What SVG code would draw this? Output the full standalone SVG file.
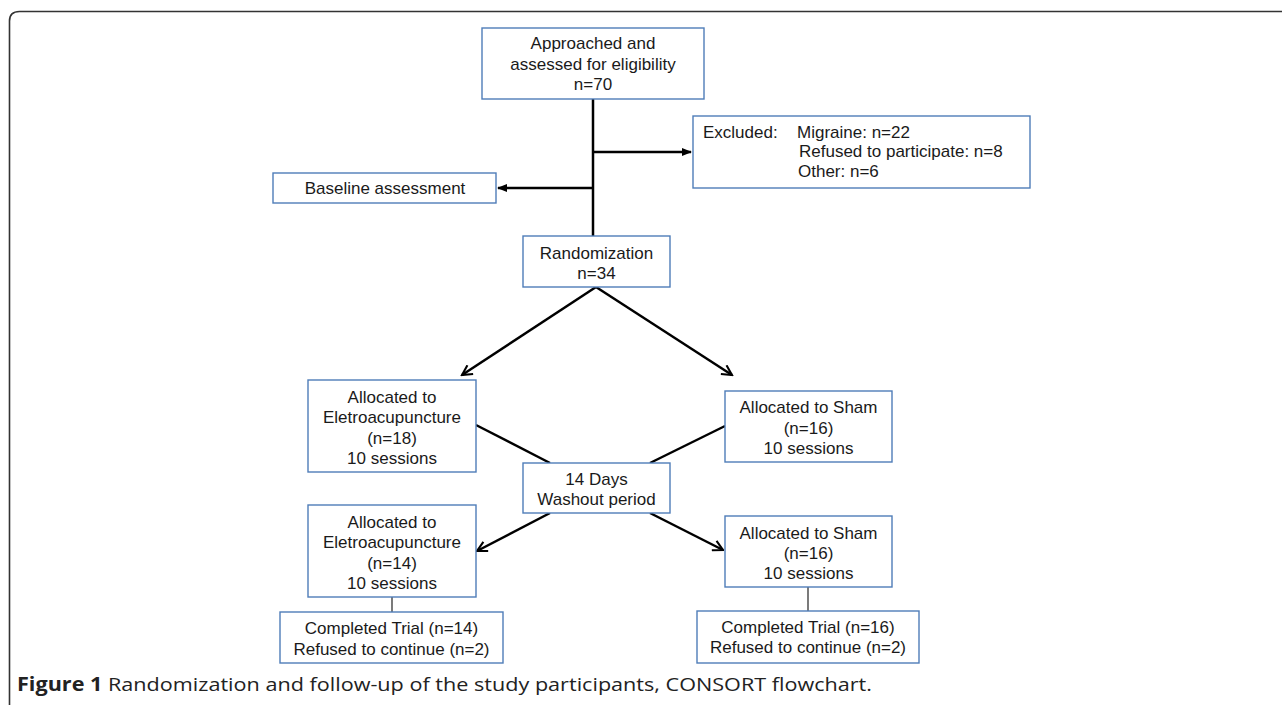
<svg xmlns="http://www.w3.org/2000/svg" width="1282" height="705" viewBox="0 0 1282 705">
<style>
.box{fill:#ffffff;stroke:#4f7db8;stroke-width:1.4}
.t{font-family:"Liberation Sans",Arial,sans-serif;font-size:17px;fill:#1a1a1a;text-anchor:middle}
.tl{font-family:"Liberation Sans",Arial,sans-serif;font-size:17px;fill:#1a1a1a}
.thick{stroke:#000;stroke-width:2.5;fill:none}
.thin{stroke:#222;stroke-width:1.2;fill:none}
.cap{font-family:"Open Sans",sans-serif;font-size:19px;fill:#222}
</style>
<defs>
<marker id="tri" viewBox="0 0 10 10" refX="9" refY="5" markerWidth="4" markerHeight="4" orient="auto" markerUnits="strokeWidth">
<path d="M0,1 L10,5 L0,9 Z" fill="#000"/>
</marker>
<marker id="vee" viewBox="0 0 12 12" refX="10.5" refY="6" markerWidth="5" markerHeight="5" orient="auto" markerUnits="strokeWidth">
<path d="M1,1 L10.5,6 L1,11" fill="none" stroke="#000" stroke-width="2"/>
</marker>
</defs>
<rect width="1282" height="705" fill="#ffffff"/>
<path d="M9.5,705 L9.5,21 Q9.5,11.5 19.5,11.5 L1282,11.5" fill="none" stroke="#333" stroke-width="1.6"/>

<g id="connectors">
<line class="thick" x1="593" y1="99" x2="593" y2="236"/>
<line class="thick" x1="593" y1="152" x2="691" y2="152" marker-end="url(#tri)"/>
<line class="thick" x1="593" y1="188" x2="498" y2="188" marker-end="url(#tri)"/>
<line class="thick" x1="596" y1="287" x2="462" y2="375" marker-end="url(#vee)"/>
<line class="thick" x1="596" y1="287" x2="732" y2="375" marker-end="url(#vee)"/>
<line class="thick" x1="476" y1="425" x2="550" y2="463"/>
<line class="thick" x1="725" y1="426" x2="650" y2="463"/>
<line class="thick" x1="550" y1="513" x2="477" y2="551" marker-end="url(#vee)"/>
<line class="thick" x1="650" y1="513" x2="723" y2="550" marker-end="url(#vee)"/>
<line class="thin" x1="392" y1="597" x2="392" y2="612"/>
<line class="thin" x1="808" y1="587" x2="808" y2="611"/>
</g>

<g id="approached">
<rect class="box" x="482" y="28" width="222" height="71"/>
<text class="t" x="593" y="49">Approached and</text>
<text class="t" x="593" y="69.5">assessed for eligibility</text>
<text class="t" x="593" y="90">n=70</text>
</g>

<g id="excluded">
<rect class="box" x="693" y="116" width="337" height="72"/>
<text class="tl" x="703" y="138">Excluded:</text>
<text class="tl" x="797" y="138">Migraine: n=22</text>
<text class="tl" x="799" y="157">Refused to participate: n=8</text>
<text class="tl" x="798" y="177">Other: n=6</text>
</g>

<g id="baseline">
<rect class="box" x="273" y="173" width="223" height="30"/>
<text class="t" x="385" y="194">Baseline assessment</text>
</g>

<g id="randomization">
<rect class="box" x="523" y="236" width="147" height="51"/>
<text class="t" x="596.5" y="259">Randomization</text>
<text class="t" x="596.5" y="279">n=34</text>
</g>

<g id="alloc-ea-1">
<rect class="box" x="308" y="380" width="168" height="92"/>
<text class="t" x="392" y="403">Allocated to</text>
<text class="t" x="392" y="423">Eletroacupuncture</text>
<text class="t" x="392" y="444">(n=18)</text>
<text class="t" x="392" y="464">10 sessions</text>
</g>

<g id="alloc-sham-1">
<rect class="box" x="725" y="391" width="167" height="71"/>
<text class="t" x="808.5" y="413">Allocated to Sham</text>
<text class="t" x="808.5" y="434">(n=16)</text>
<text class="t" x="808.5" y="454">10 sessions</text>
</g>

<g id="washout">
<rect class="box" x="523" y="463" width="147" height="50"/>
<text class="t" x="596.5" y="485">14 Days</text>
<text class="t" x="596.5" y="505">Washout period</text>
</g>

<g id="alloc-ea-2">
<rect class="box" x="308" y="505" width="168" height="92"/>
<text class="t" x="392" y="528">Allocated to</text>
<text class="t" x="392" y="548">Eletroacupuncture</text>
<text class="t" x="392" y="569">(n=14)</text>
<text class="t" x="392" y="589">10 sessions</text>
</g>

<g id="alloc-sham-2">
<rect class="box" x="725" y="516" width="167" height="71"/>
<text class="t" x="808.5" y="539">Allocated to Sham</text>
<text class="t" x="808.5" y="559">(n=16)</text>
<text class="t" x="808.5" y="579">10 sessions</text>
</g>

<g id="completed-ea">
<rect class="box" x="280" y="612" width="223" height="51"/>
<text class="t" x="391.5" y="634">Completed Trial (n=14)</text>
<text class="t" x="391.5" y="655">Refused to continue (n=2)</text>
</g>

<g id="completed-sham">
<rect class="box" x="697" y="611" width="222" height="52"/>
<text class="t" x="808" y="633">Completed Trial (n=16)</text>
<text class="t" x="808" y="653">Refused to continue (n=2)</text>
</g>

<text class="cap" x="17" y="691" textLength="855" lengthAdjust="spacingAndGlyphs"><tspan font-weight="bold">Figure 1</tspan> Randomization and follow-up of the study participants, CONSORT flowchart.</text>
</svg>
